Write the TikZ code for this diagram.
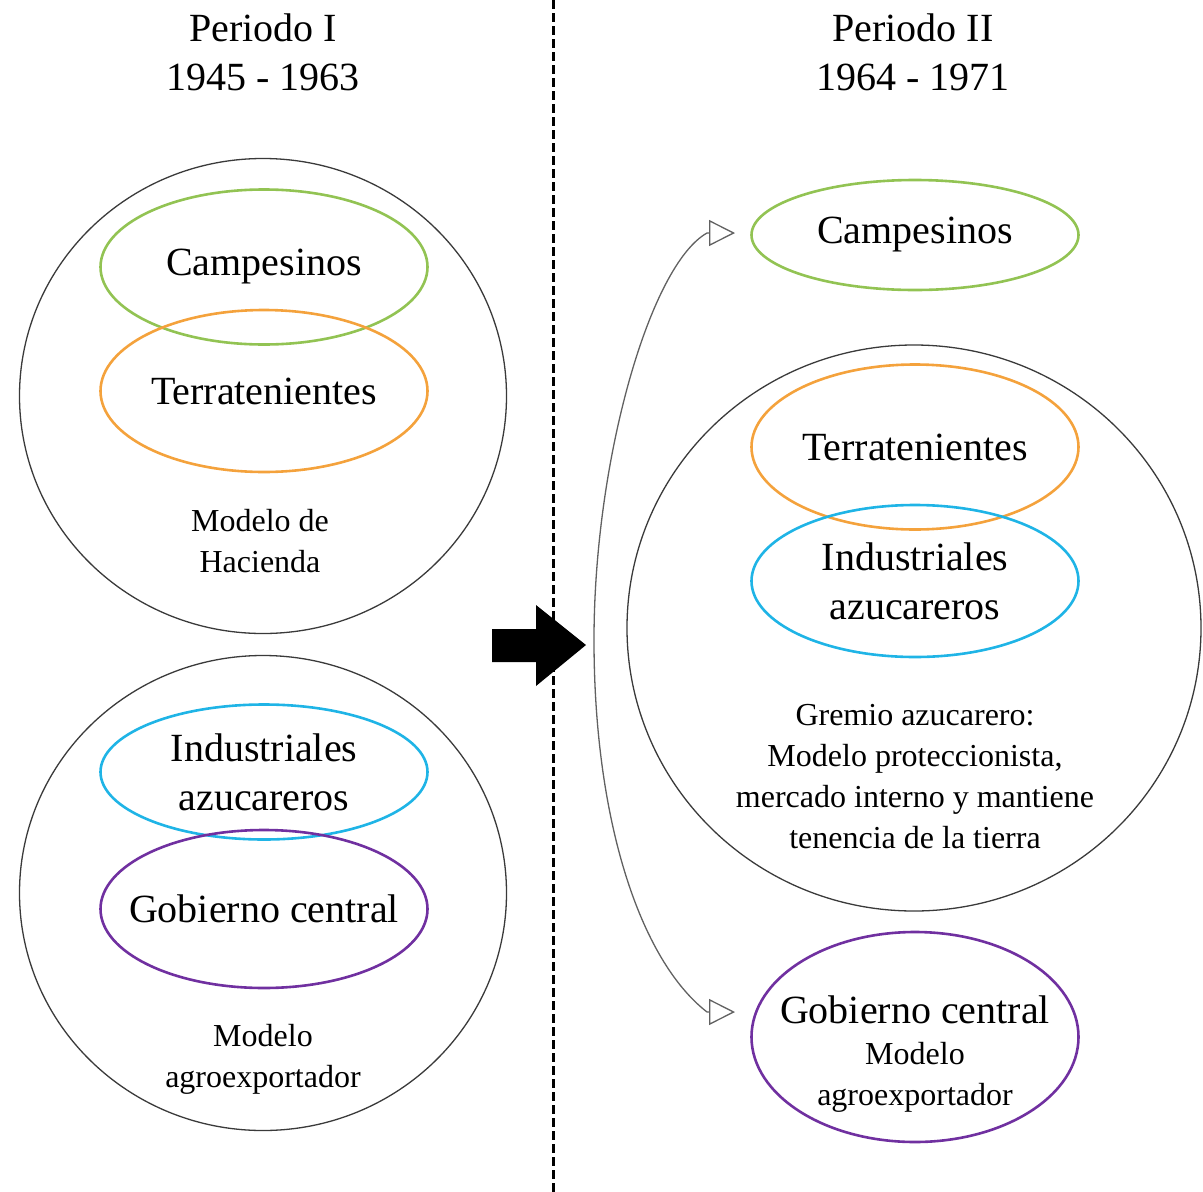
\documentclass[tikz,border=0pt]{standalone}
\usepackage{fontspec}
\setmainfont{Liberation Serif}
\usetikzlibrary{shapes.geometric,arrows.meta}
\definecolor{verde}{HTML}{92C353}
\definecolor{naranja}{HTML}{F4A23C}
\definecolor{celeste}{HTML}{1FB4E6}
\definecolor{morado}{HTML}{7030A0}
\definecolor{borde}{HTML}{3A3A3A}
\tikzset{
  grande/.style={font=\fontsize{40}{49}\selectfont, align=center},
  chico/.style={font=\fontsize{32}{41}\selectfont, align=center},
  ovalo/.style={ellipse, draw=#1, line width=2.6pt, inner sep=0pt, minimum width=327pt},
  bloque/.style={ellipse, draw=borde, line width=1.3pt, inner sep=0pt},
  punta/.tip={Triangle[open, length=26pt, width=26pt]}
}

\begin{document}
\begin{tikzpicture}[x=1pt,y=1pt]
\useasboundingbox (0,0) rectangle (1203,-1192);
\draw[line width=3pt, dash pattern=on 9pt off 4pt] (553,0) -- (553,-1192);

\node[grande] (tituloA) at (263,-52) {Periodo I\\1945 - 1963};
\node[grande] (tituloB) at (913,-52) {Periodo II\\1964 - 1971};

\node[bloque, minimum width=487pt, minimum height=475pt] (haciendaA) at (263,-396) {};
\node[ovalo=verde, minimum height=155pt, grande] (campA) at (264,-267) {Campesinos};
\node[ovalo=naranja, minimum height=162pt, grande] (terrA) at (264,-391) {Terratenientes};
\node[chico] (modeloA) at (260,-541) {Modelo de\\Hacienda};

\node[bloque, minimum width=487pt, minimum height=475pt] (agroA) at (263,-893) {};
\node[ovalo=celeste, minimum height=135pt, grande] (indA) at (264,-772) {Industriales\\azucareros};
\node[ovalo=morado, minimum height=158pt] (gobA) at (264,-909) {};
\node[grande] (gobAT) at (gobA) {Gobierno central};
\node[chico] (modeloB) at (263,-1059) {Modelo\\agroexportador};

\fill (492,-629) -- (536,-629) -- (536,-605) -- (586,-645) -- (536,-686) -- (536,-662) -- (492,-662) -- cycle;

\node[ovalo=verde, minimum height=110pt, grande] (campB) at (915,-235) {Campesinos};
\node[bloque, minimum width=574pt, minimum height=566pt] (gremio) at (914,-628) {};
\node[ovalo=naranja, minimum height=165pt, grande] (terrB) at (915,-447) {Terratenientes};
\node[ovalo=celeste, minimum height=152pt, grande] (indB) at (915,-581) {Industriales\\azucareros};
\node[chico] (modeloC) at (915,-777) {Gremio azucarero:\\Modelo proteccionista,\\mercado interno y mantiene\\tenencia de la tierra};
\node[ovalo=morado, minimum height=210pt] (gobB) at (915,-1037) {};
\node[grande] (gobBT) at (915,-1010) {Gobierno central};
\node[chico] (modeloD) at (915,-1077) {Modelo\\agroexportador};

\coordinate (puntaA) at (735,-233);
\coordinate (baseA) at (707,-233);
\coordinate (partida) at (594,-640);
\coordinate (baseB) at (707,-1012);
\coordinate (puntaB) at (735,-1012);
\draw[borde!80, line width=1.3pt, {punta}-{punta}] (puntaA) -- (baseA) .. controls (650,-265) and (594,-460) .. (partida) .. controls (594,-820) and (640,-960) .. (baseB) -- (puntaB);
\end{tikzpicture}
\end{document}
